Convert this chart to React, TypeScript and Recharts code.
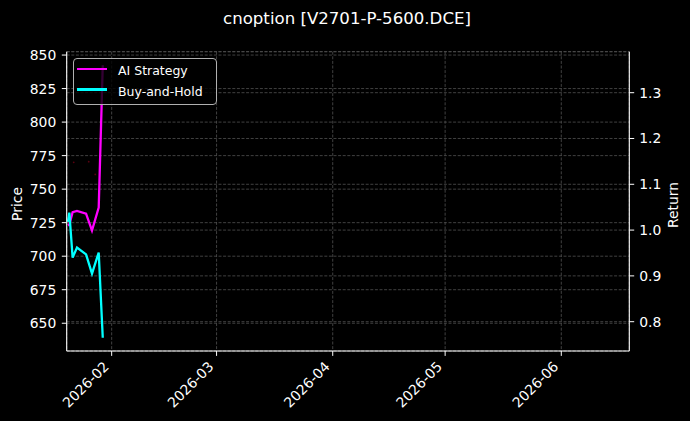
import React from 'react';
import { ComposedChart, Line, XAxis, YAxis, CartesianGrid, Legend } from 'recharts';

// ---- data ----
const returnDates = [
  '2026-01-20T08:00',
  '2026-01-20T17:00',
  '2026-01-21T14:00',
  '2026-01-22T18:00',
  '2026-01-25T04:00',
  '2026-01-26T18:00',
  '2026-01-28T13:00',
  '2026-01-29T15:00',
];
const aiStrategy = [1.01, 1.012, 1.039, 1.042, 1.036, 0.999, 1.049, 1.36];
const buyAndHold = [1.018, 1.038, 0.94, 0.962, 0.947, 0.905, 0.951, 0.765];
const priceDates = ['2026-01-21T21:00', '2026-01-25T21:00', '2026-01-27T15:00'];
const priceValues = [770, 770.5, 761];
const monthTicks = ['2026-02-01', '2026-03-01', '2026-04-01', '2026-05-01', '2026-06-01'];
const priceTicks = [650, 675, 700, 725, 750, 775, 800, 825, 850];
const returnTicks = [0.8, 0.9, 1.0, 1.1, 1.2, 1.3];
const xStart = '2026-01-20T00:00';
const xEnd = '2026-06-19T03:36';
const priceDomain = [629.3, 852.5];
const returnDomain = [0.736, 1.3895];
const seriesNames = ['AI Strategy', 'Buy-and-Hold'];
const seriesColors = ['#ff00ff', '#00ffff'];
const titleText = 'cnoption [V2701-P-5600.DCE]';

const toMs = (s: string) => Date.parse(s.length === 10 ? s + 'T00:00:00Z' : s + ':00Z');

type Row = { t: number; ai?: number | null; bh?: number | null; price?: number | null };
const rows: Row[] = [
  ...returnDates.map((d, i) => ({ t: toMs(d), ai: aiStrategy[i], bh: buyAndHold[i], price: null })),
  ...priceDates.map((d, i) => ({ t: toMs(d), ai: null, bh: null, price: priceValues[i] })),
].sort((a, b) => a.t - b.t);

const FONT = '"DejaVu Sans", sans-serif';
const FS = 13.9;
const LEGEND_FS = 12.5;

const fmtMonth = (v: number) => {
  const d = new Date(v);
  return `${d.getUTCFullYear()}-${String(d.getUTCMonth() + 1).padStart(2, '0')}`;
};

const XTick = (props: any) => {
  const { x, y, payload } = props;
  const ex = x - 2;
  const ey = y + 9.5;
  return (
    <text
      x={ex}
      y={ey}
      textAnchor="end"
      fill="#ffffff"
      fontSize={FS}
      fontFamily={FONT}
      transform={`rotate(-45, ${ex}, ${ey})`}
    >
      {fmtMonth(payload.value)}
    </text>
  );
};

const LegendBox = () => (
  <div
    style={{
      position: 'relative',
      width: 144,
      height: 46.7,
      boxSizing: 'border-box',
      border: '1px solid #b0b0b0',
      borderRadius: 4,
      background: 'rgba(0,0,0,0.8)',
      fontFamily: FONT,
      fontSize: LEGEND_FS,
      color: '#ffffff',
    }}
  >
    {seriesNames.map((n, i) => (
      <React.Fragment key={n}>
        <div
          style={{
            position: 'absolute',
            left: 3.3,
            top: 8.7 + i * 20.7,
            width: 30,
            height: 2.6,
            background: seriesColors[i],
          }}
        />
        <div
          style={{
            position: 'absolute',
            left: 44,
            top: 3.9 + i * 21,
            lineHeight: '15px',
            whiteSpace: 'nowrap',
          }}
        >
          {n}
        </div>
      </React.Fragment>
    ))}
  </div>
);

const xDomain = [toMs(xStart), toMs(xEnd)];

const axisLabel = (text: string, dx: number, ly: number) => (p: any) => {
  const vb = p.viewBox;
  const lx = vb.x + dx;
  return (
    <text
      x={lx}
      y={ly}
      textAnchor="middle"
      fill="#ffffff"
      fontSize={FS}
      fontFamily={FONT}
      transform={`rotate(-90, ${lx}, ${ly})`}
    >
      {text}
    </text>
  );
};

export default function App() {
  return (
    <div
      style={{
        position: 'absolute',
        left: 0,
        top: 0,
        width: 690,
        height: 421,
        background: '#000000',
        fontFamily: FONT,
        overflow: 'hidden',
      }}
    >
      <div
        style={{
          position: 'absolute',
          left: 2,
          top: 8.7,
          width: 690,
          textAlign: 'center',
          color: '#ffffff',
          fontSize: 16.6,
          lineHeight: '20px',
          fontFamily: FONT,
          whiteSpace: 'nowrap',
        }}
      >
        {titleText}
      </div>
      <ComposedChart
        width={690}
        height={421}
        data={rows}
        margin={{ top: 51.7, right: 0, bottom: 0, left: 0 }}
        style={{ position: 'absolute', left: 0, top: 0 }}
      >
        <CartesianGrid
          yAxisId="left"
          stroke="#505050"
          strokeDasharray="3 1.6"
          strokeWidth={0.8}
        />
        <CartesianGrid
          yAxisId="right"
          vertical={false}
          stroke="#505050"
          strokeDasharray="3 1.6"
          strokeWidth={0.8}
        />
        <XAxis
          dataKey="t"
          type="number"
          domain={xDomain}
          allowDataOverflow
          ticks={monthTicks.map(toMs)}
          interval={0}
          height={70}
          tick={<XTick />}
          tickSize={4.9}
          tickLine={{ stroke: '#ffffff', strokeWidth: 1 }}
          axisLine={{ stroke: '#ffffff', strokeWidth: 1.1 }}
        />
        <XAxis
          xAxisId="top"
          dataKey="t"
          type="number"
          orientation="top"
          domain={xDomain}
          allowDataOverflow
          height={0}
          tick={false}
          tickLine={false}
          axisLine={{ stroke: '#ffffff', strokeWidth: 1.1 }}
        />
        <YAxis
          yAxisId="left"
          type="number"
          domain={priceDomain}
          allowDataOverflow
          ticks={priceTicks}
          interval={0}
          width={66.7}
          tickSize={4.9}
          tickMargin={5.5}
          tick={{ fill: '#ffffff', fontSize: FS, fontFamily: FONT }}
          tickLine={{ stroke: '#ffffff', strokeWidth: 1 }}
          axisLine={{ stroke: '#ffffff', strokeWidth: 1.1 }}
          label={{ content: axisLabel('Price', 21.7, 204) }}
        />
        <YAxis
          yAxisId="right"
          orientation="right"
          type="number"
          domain={returnDomain}
          allowDataOverflow
          ticks={returnTicks}
          interval={0}
          width={60.7}
          tickSize={4.9}
          tickMargin={5}
          tickFormatter={(v: number) => v.toFixed(1)}
          tick={{ fill: '#ffffff', fontSize: FS, fontFamily: FONT }}
          tickLine={{ stroke: '#ffffff', strokeWidth: 1 }}
          axisLine={{ stroke: '#ffffff', strokeWidth: 1.1 }}
          label={{ content: axisLabel('Return', 48.7, 205) }}
        />
        <Line
          yAxisId="left"
          dataKey="price"
          stroke="none"
          isAnimationActive={false}
          dot={{ r: 0.9, fill: '#5a0010', stroke: 'none' }}
          activeDot={false}
          legendType="none"
        />
        <Line
          yAxisId="right"
          dataKey="ai"
          name={seriesNames[0]}
          stroke={seriesColors[0]}
          strokeWidth={2.3}
          dot={false}
          connectNulls
          isAnimationActive={false}
        />
        <Line
          yAxisId="right"
          dataKey="bh"
          name={seriesNames[1]}
          stroke={seriesColors[1]}
          strokeWidth={2.3}
          dot={false}
          connectNulls
          isAnimationActive={false}
        />
        <Legend
          layout="horizontal"
          verticalAlign="middle"
          align="center"
          content={() => <LegendBox />}
          wrapperStyle={{ left: 73, top: 58, width: 144, height: 46.7, margin: 0 }}
        />
      </ComposedChart>
    </div>
  );
}
